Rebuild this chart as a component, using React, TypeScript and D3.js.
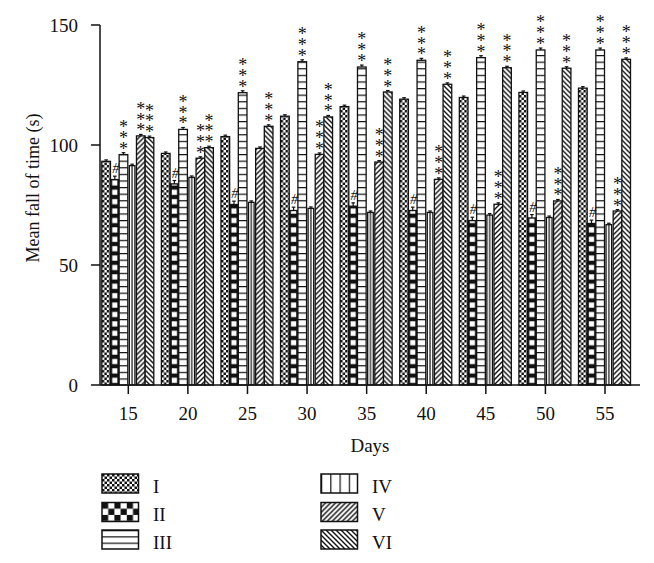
import React from "react";
import * as d3 from "d3";

const days = [15, 20, 25, 30, 35, 40, 45, 50, 55];
const seriesNames = ["I", "II", "III", "IV", "V", "VI"];
const valI = [93.2, 96.5, 103.5, 112.0, 116.0, 119.1, 119.8, 121.9, 123.7];
const valII = [85.6, 83.8, 75.2, 72.7, 74.5, 72.7, 68.5, 69.6, 67.3];
const valIII = [96.0, 106.5, 121.8, 134.7, 132.5, 135.3, 136.4, 139.6, 139.6];
const valIV = [91.4, 86.5, 76.1, 73.6, 71.9, 71.9, 70.8, 69.8, 66.8];
const valV = [103.8, 94.5, 98.6, 96.1, 92.9, 85.7, 75.3, 76.7, 72.5];
const valVI = [103.1, 98.9, 107.8, 111.7, 122.1, 125.3, 132.2, 132.0, 135.7];
const errI = [0.6, 0.6, 0.6, 0.6, 0.6, 0.6, 0.6, 0.6, 0.6];
const errII = [1.4, 1.4, 1.4, 1.4, 1.4, 1.4, 1.4, 1.4, 1.4];
const errIII = [0.8, 0.8, 0.8, 0.8, 0.8, 0.8, 0.8, 0.8, 0.8];
const errIV = [0.6, 0.6, 0.6, 0.6, 0.6, 0.6, 0.6, 0.6, 0.6];
const errV = [0.6, 0.6, 0.6, 0.6, 0.6, 0.6, 0.6, 0.6, 0.6];
const errVI = [0.6, 0.6, 0.6, 0.6, 0.6, 0.6, 0.6, 0.6, 0.6];
// significance marks: "***" for stars, "#" for hash, "" for none
const markI = ["", "", "", "", "", "", "", "", ""];
const markII = ["#", "#", "#", "#", "#", "#", "#", "#", "#"];
const markIII = ["***", "***", "***", "***", "***", "***", "***", "***", "***"];
const markIV = ["", "", "", "", "", "", "", "", ""];
const markV = ["***", "***", "", "***", "***", "***", "***", "***", "***"];
const markVI = ["***", "***", "***", "***", "***", "***", "***", "***", "***"];
const yTicks = [0, 50, 100, 150];
const xLabel = "Days";
const yLabel = "Mean fall of time (s)";

const values = [valI, valII, valIII, valIV, valV, valVI];
const errs = [errI, errII, errIII, errIV, errV, errVI];
const marks = [markI, markII, markIII, markIV, markV, markVI];

const INK = "#111";
const FONT = "'Liberation Serif', 'DejaVu Serif', serif";

export default function App() {
  const W = 654;
  const H = 563;
  const axisLeft = 100;
  const axisRight = 640;
  const y = d3.scaleLinear().domain([0, 150]).range([385, 25]);
  const x = d3.scaleLinear().domain([15, 55]).range([128.3, 605]);
  const inner = d3.scaleBand<string>().domain(seriesNames).range([-26.5, 25.5]);
  const bw = inner.bandwidth();
  const bw4 = 5.6;

  const fills = ["url(#pI)", "url(#pII)", "url(#pIII)", "url(#pIV)", "url(#pV)", "url(#pVI)"];
  const legendFills = ["url(#pI)", "url(#lII)", "url(#lIII)", "url(#lIV)", "url(#pV)", "url(#pVI)"];

  const bars: React.ReactNode[] = [];
  const labels: React.ReactNode[] = [];
  days.forEach((d, gi) => {
    seriesNames.forEach((s, si) => {
      const v = values[si][gi];
      const e = errs[si][gi];
      const w = si === 3 ? bw4 : bw;
      const x0 = x(d) + (inner(s) as number) + (bw - w) / 2;
      const h = y(0) - y(v);
      const topY = y(v);
      const eTop = y(v + e);
      const cx = x0 + w / 2;
      const mk = marks[si][gi];
      bars.push(
        <g key={`b${gi}-${si}`}>
          <g transform={`translate(${x0},${y(0)})`}>
            <rect x={0} y={-h} width={w} height={h} fill={fills[si]} stroke={INK} strokeWidth={1.3} />
          </g>
          <line x1={cx} x2={cx} y1={topY} y2={eTop} stroke={INK} strokeWidth={1.2} />
          <line x1={cx - 1.8} x2={cx + 1.8} y1={eTop} y2={eTop} stroke={INK} strokeWidth={1.2} />
        </g>
      );
      if (mk === "***") {
        const base = eTop - 6.5 + 8.5;
        labels.push(
          <text
            key={`m${gi}-${si}`}
            x={cx}
            y={base - 21.6}
            textAnchor="middle"
            fontFamily={FONT}
            fontSize={18}
            fill={INK}
          >
            <tspan x={cx} y={base - 21.6}>*</tspan>
            <tspan x={cx} y={base - 10.8}>*</tspan>
            <tspan x={cx} y={base}>*</tspan>
          </text>
        );
      } else if (mk === "#") {
        labels.push(
          <text
            key={`m${gi}-${si}`}
            x={cx + 1}
            y={eTop - 3}
            textAnchor="middle"
            fontFamily={FONT}
            fontSize={14.5}
            fontStyle="italic"
            fill={INK}
          >
            #
          </text>
        );
      }
    });
  });

  const legendPos = [
    { x: 102, y: 474 },
    { x: 102, y: 502.5 },
    { x: 102, y: 530 },
    { x: 321, y: 474 },
    { x: 321, y: 502.5 },
    { x: 321, y: 530 },
  ];

  return (
    <svg width={W} height={H} style={{ position: "absolute", left: 0, top: 0, background: "#fff" }}>
      <defs>
        <pattern id="pI" patternUnits="userSpaceOnUse" width={5} height={5}>
          <rect width={5} height={5} fill="#fff" />
          <rect x={0} y={0} width={2.5} height={2.5} fill={INK} />
          <rect x={2.5} y={2.5} width={2.5} height={2.5} fill={INK} />
        </pattern>
        <pattern id="pII" patternUnits="userSpaceOnUse" width={bw} height={9.4}>
          <rect width={bw} height={9.4} fill={INK} />
          <rect x={(bw - 5.2) / 2} y={2.1} width={5.2} height={5.2} fill="#fff" />
        </pattern>
        <pattern id="pIII" patternUnits="userSpaceOnUse" width={10} height={6.6}>
          <rect width={10} height={6.6} fill="#fff" />
          <rect x={0} y={0} width={10} height={1.2} fill={INK} />
        </pattern>
        <pattern id="pIV" patternUnits="userSpaceOnUse" width={bw4} height={10}>
          <rect width={bw4} height={10} fill="#fff" />
          <rect x={bw4 / 2 - 0.6} y={0} width={1.2} height={10} fill={INK} />
        </pattern>
        <pattern id="pV" patternUnits="userSpaceOnUse" width={5} height={5}>
          <rect width={5} height={5} fill="#fff" />
          <path d="M-1,1 L1,-1 M0,5 L5,0 M4,6 L6,4" stroke={INK} strokeWidth={1.4} />
        </pattern>
        <pattern id="pVI" patternUnits="userSpaceOnUse" width={5} height={5}>
          <rect width={5} height={5} fill="#fff" />
          <path d="M-1,4 L1,6 M0,0 L5,5 M4,-1 L6,1" stroke={INK} strokeWidth={1.4} />
        </pattern>
        <pattern id="lII" patternUnits="userSpaceOnUse" width={12.4} height={12.4}>
          <rect width={12.4} height={12.4} fill="#fff" />
          <rect x={0} y={0} width={6.2} height={6.2} fill={INK} />
          <rect x={6.2} y={6.2} width={6.2} height={6.2} fill={INK} />
        </pattern>
        <pattern id="lIII" patternUnits="userSpaceOnUse" width={10} height={6.3}>
          <rect width={10} height={6.3} fill="#fff" />
          <rect x={0} y={0} width={10} height={1.2} fill={INK} />
        </pattern>
        <pattern id="lIV" patternUnits="userSpaceOnUse" width={9.25} height={10}>
          <rect width={9.25} height={10} fill="#fff" />
          <rect x={0} y={0} width={1.2} height={10} fill={INK} />
        </pattern>
      </defs>

      {bars}
      {labels}

      {/* axes */}
      <line x1={axisLeft} x2={axisLeft} y1={y(150)} y2={y(0)} stroke={INK} strokeWidth={1.5} />
      <line x1={axisLeft} x2={axisRight} y1={y(0)} y2={y(0)} stroke={INK} strokeWidth={1.5} />
      {yTicks.map((t) => (
        <g key={`yt${t}`}>
          <line x1={axisLeft - 9} x2={axisLeft} y1={y(t)} y2={y(t)} stroke={INK} strokeWidth={1.5} />
          <text
            x={axisLeft - 22}
            y={y(t) + 6.5}
            textAnchor="end"
            fontFamily={FONT}
            fontSize={19}
            fill={INK}
          >
            {t}
          </text>
        </g>
      ))}
      {days.map((d) => (
        <g key={`xt${d}`}>
          <line x1={x(d)} x2={x(d)} y1={y(0)} y2={y(0) + 9} stroke={INK} strokeWidth={1.5} />
          <text x={x(d)} y={y(0) + 35} textAnchor="middle" fontFamily={FONT} fontSize={19} fill={INK}>
            {d}
          </text>
        </g>
      ))}
      <text x={(axisLeft + axisRight) / 2} y={452} textAnchor="middle" fontFamily={FONT} fontSize={19} fill={INK}>
        {xLabel}
      </text>
      <text
        transform={`translate(39,188) rotate(-90)`}
        textAnchor="middle"
        fontFamily={FONT}
        fontSize={18}
        fill={INK}
      >
        {yLabel}
      </text>

      {/* legend */}
      {seriesNames.map((s, i) => (
        <g key={`lg${s}`} transform={`translate(${legendPos[i].x},${legendPos[i].y})`}>
          <rect x={0} y={0} width={36.5} height={19} fill={legendFills[i]} stroke={INK} strokeWidth={1.5} />
          <text x={51} y={18.5} fontFamily={FONT} fontSize={19} fill={INK}>
            {s}
          </text>
        </g>
      ))}
    </svg>
  );
}
